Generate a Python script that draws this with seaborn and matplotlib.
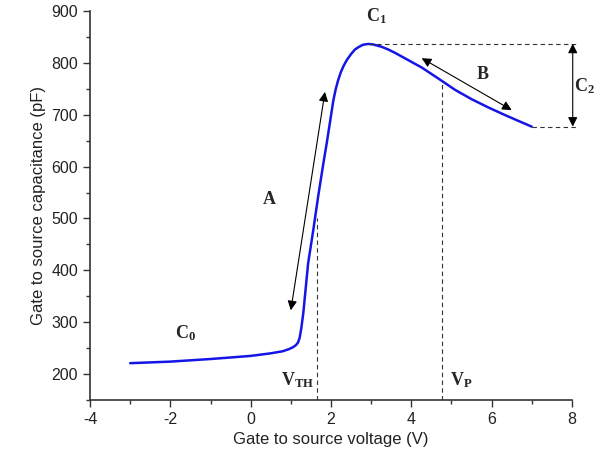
import numpy as np
import pandas as pd
import seaborn as sns
import matplotlib
matplotlib.use("Agg")
import matplotlib.pyplot as plt

# C-V curve
vgs = [-3.0, -2.0, -1.0, 0.0, 0.5, 0.8, 0.95, 1.06, 1.13, 1.18, 1.22, 1.26,
       1.31, 1.43, 1.56, 1.68, 1.81, 1.9, 1.97, 2.06, 2.12, 2.18, 2.25,
       2.32, 2.39, 2.5, 2.6, 2.7, 2.8, 2.93, 3.05, 3.26, 3.42, 3.59,
       3.92, 4.26, 4.67, 5.09, 5.5, 5.92, 6.33, 6.67, 7.0]
cgs = [221, 224, 229, 235, 240, 244, 248, 252, 256, 261, 270, 288,
       317, 413, 478, 542, 606, 648, 683, 728, 750, 767, 783,
       795, 805, 817, 826, 831, 835, 836.5, 835.5, 831, 826, 819.5,
       805.5, 791, 770, 748, 730, 714, 699.5, 688, 677]

v_th = 1.64
v_p = 4.77
c_peak = 837
c_end = 677

df = pd.DataFrame({"Vgs": vgs, "Cgs": cgs})

sns.set_style("ticks")
plt.rcParams["font.family"] = ["Liberation Sans", "DejaVu Sans"]
plt.rcParams["mathtext.fontset"] = "custom"
plt.rcParams["mathtext.bf"] = "Liberation Serif:bold"
plt.rcParams["mathtext.rm"] = "Liberation Serif"
plt.rcParams["axes.unicode_minus"] = False

fig = plt.figure(figsize=(5.97, 4.68), dpi=100)
ax = fig.add_axes([0.1508, 0.1453, 0.8072, 0.8312])

sns.lineplot(data=df, x="Vgs", y="Cgs", ax=ax, sort=False, color="#1515e8", lw=1.8)

dark = "#333333"
# guide lines
ax.plot([v_th, v_th], [150, 500], ls="--", color=dark, lw=0.8, dashes=(4, 3))
ax.plot([v_p, v_p], [150, 765], ls="--", color=dark, lw=0.8, dashes=(4, 3))
ax.plot([2.95, 8.15], [c_peak, c_peak], ls="--", color=dark, lw=0.8, dashes=(4, 3), clip_on=False)
ax.plot([7.0, 8.15], [c_end, c_end], ls="--", color=dark, lw=0.8, dashes=(4, 3), clip_on=False)

# arrows
arrow = dict(arrowstyle="<|-|>", color="black", lw=0.8, mutation_scale=14, shrinkA=0, shrinkB=0)
ax.annotate("", xy=(1.0, 323), xytext=(1.85, 744), arrowprops=arrow)
ax.annotate("", xy=(4.26, 809), xytext=(6.5, 709), arrowprops=arrow)
ax.annotate("", xy=(8.02, c_peak), xytext=(8.02, c_end), arrowprops=arrow, annotation_clip=False)

tkw = dict(fontsize=13, ha="center", va="center")
ax.text(3.12, 890, r"$\mathbf{C_1}$", **tkw)
ax.text(5.78, 778, r"$\mathbf{B}$", **tkw)
ax.text(8.32, 755, r"$\mathbf{C_2}$", **tkw, clip_on=False)
ax.text(0.48, 537, r"$\mathbf{A}$", **tkw)
ax.text(-1.61, 279, r"$\mathbf{C_0}$", **tkw)
ax.text(1.18, 188, r"$\mathbf{V_{TH}}$", **tkw)
ax.text(5.24, 188, r"$\mathbf{V_P}$", **tkw)

ax.set_xlim(-4, 8)
ax.set_ylim(150, 900)
ax.set_xticks(np.arange(-4, 9, 2))
ax.set_xticks(np.arange(-3, 8, 2), minor=True)
ax.set_yticks(np.arange(200, 901, 100))
ax.set_yticks(np.arange(150, 900, 100), minor=True)
ax.tick_params(which="major", length=5, width=1, color=dark, labelsize=11.5, labelcolor="#222222")
ax.tick_params(which="minor", length=3, width=1, color=dark)
ax.set_xlabel("Gate to source voltage (V)", fontsize=12, color="#222222")
ax.set_ylabel("Gate to source capacitance (pF)", fontsize=12, color="#222222")
sns.despine(ax=ax)
for s in ["left", "bottom"]:
    ax.spines[s].set_color(dark)
    ax.spines[s].set_linewidth(1.2)

fig.savefig("out.png", dpi=100)
